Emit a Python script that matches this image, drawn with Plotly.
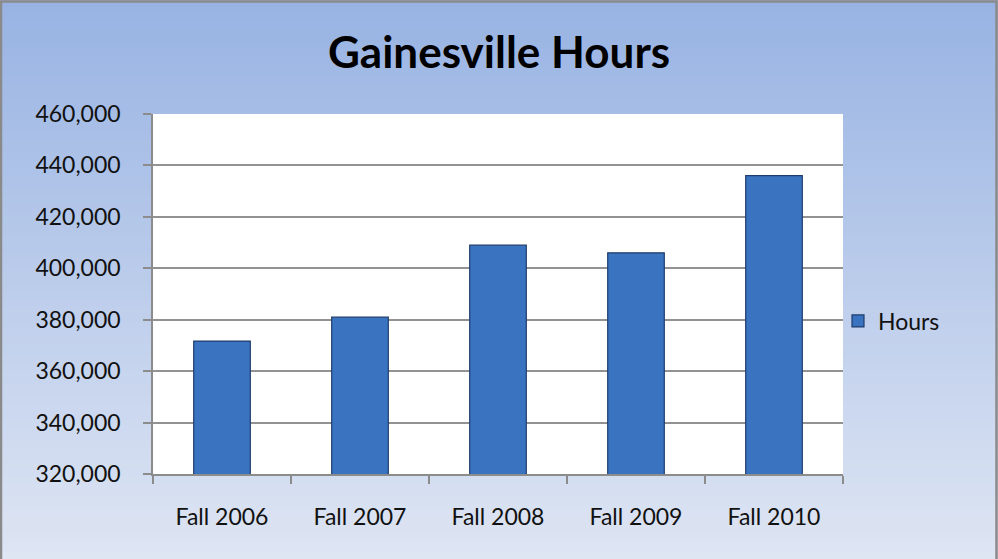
import plotly.graph_objects as go

categories = ["Fall 2006", "Fall 2007", "Fall 2008", "Fall 2009", "Fall 2010"]
hours = [371700, 381000, 409000, 406000, 436000]
y_ticks = [320000, 340000, 360000, 380000, 400000, 420000, 440000, 460000]
y_tick_labels = [f"{v:,}" for v in y_ticks]

W, H = 998, 559
ML, MR, MT, MB = 153, 155, 114, 85
PW, PH = W - ML - MR, H - MT - MB

fig = go.Figure()
fig.add_trace(go.Bar(
    x=categories, y=hours, name="Hours",
    marker=dict(color="#3A73C0", line=dict(color="#1E3D6B", width=1.2)),
    width=0.41,
))

# background gradient over the whole figure (paper coords extended into margins)
shapes = []
N = 80
top = (152, 179, 227)
bot = (222, 229, 243)
x0 = -ML / PW
x1 = 1 + MR / PW
ybot = -MB / PH
ytop = 1 + MT / PH
for i in range(N):
    t = i / (N - 1)
    c = tuple(round(top[k] + (bot[k] - top[k]) * t) for k in range(3))
    ya = ytop - (ytop - ybot) * i / N
    yb = ytop - (ytop - ybot) * (i + 1) / N
    shapes.append(dict(type="rect", xref="paper", yref="paper", x0=x0, x1=x1,
                       y0=yb - 0.002, y1=ya, fillcolor=f"rgb{c}",
                       line=dict(width=0), layer="below"))
# figure border
shapes.append(dict(type="rect", xref="paper", yref="paper",
                   x0=x0 + 1 / PW, x1=x1 - 1.5 / PW, y0=ybot - 2 / PH, y1=ytop - 1.5 / PH,
                   line=dict(color="#8A8A8A", width=2.5), fillcolor="rgba(0,0,0,0)",
                   layer="above"))
# white plot area
shapes.append(dict(type="rect", xref="x domain", yref="y domain", x0=0, x1=1, y0=0, y1=1,
                   fillcolor="white", line=dict(width=0), layer="below"))

fig.update_layout(
    width=W, height=H,
    margin=dict(l=ML, r=MR, t=MT, b=MB, autoexpand=False),
    paper_bgcolor="rgb(190,205,235)",
    plot_bgcolor="white",
    shapes=shapes,
    font=dict(family="Lato", size=23, color="#111111"),
    title=dict(text="<b>Gainesville Hours</b>", x=0.5, xanchor="center",
               xref="container", yref="container", y=1 - 53 / H, yanchor="middle",
               font=dict(family="Lato", size=44, color="#000000")),
    showlegend=True,
    legend=dict(xref="container", yref="container", x=838 / W, y=1 - 321 / H,
                xanchor="left", yanchor="middle", bgcolor="rgba(0,0,0,0)",
                font=dict(family="Lato", size=23, color="#111111"),
                itemwidth=30),
    bargap=0.59,
)
fig.update_yaxes(
    range=[320000, 460000], tickvals=y_ticks, ticktext=y_tick_labels,
    showgrid=True, gridcolor="#929292", gridwidth=1.5,
    showline=True, linecolor="#8C8C8C", linewidth=1.5,
    ticks="outside", ticklen=8, tickcolor="#8C8C8C", tickwidth=1.5,
    ticklabelstandoff=18, zeroline=False, fixedrange=True,
)
fig.update_xaxes(
    type="category", showgrid=False,
    showline=True, linecolor="#8C8C8C", linewidth=1.5,
    ticks="outside", ticklen=8, tickcolor="#8C8C8C", tickwidth=1.5,
    tickson="boundaries", ticklabelstandoff=22, mirror=False,
)

fig.write_html("out.html", config={"displayModeBar": False},
               post_script="document.body.style.margin='0';document.body.style.overflow='hidden';")
